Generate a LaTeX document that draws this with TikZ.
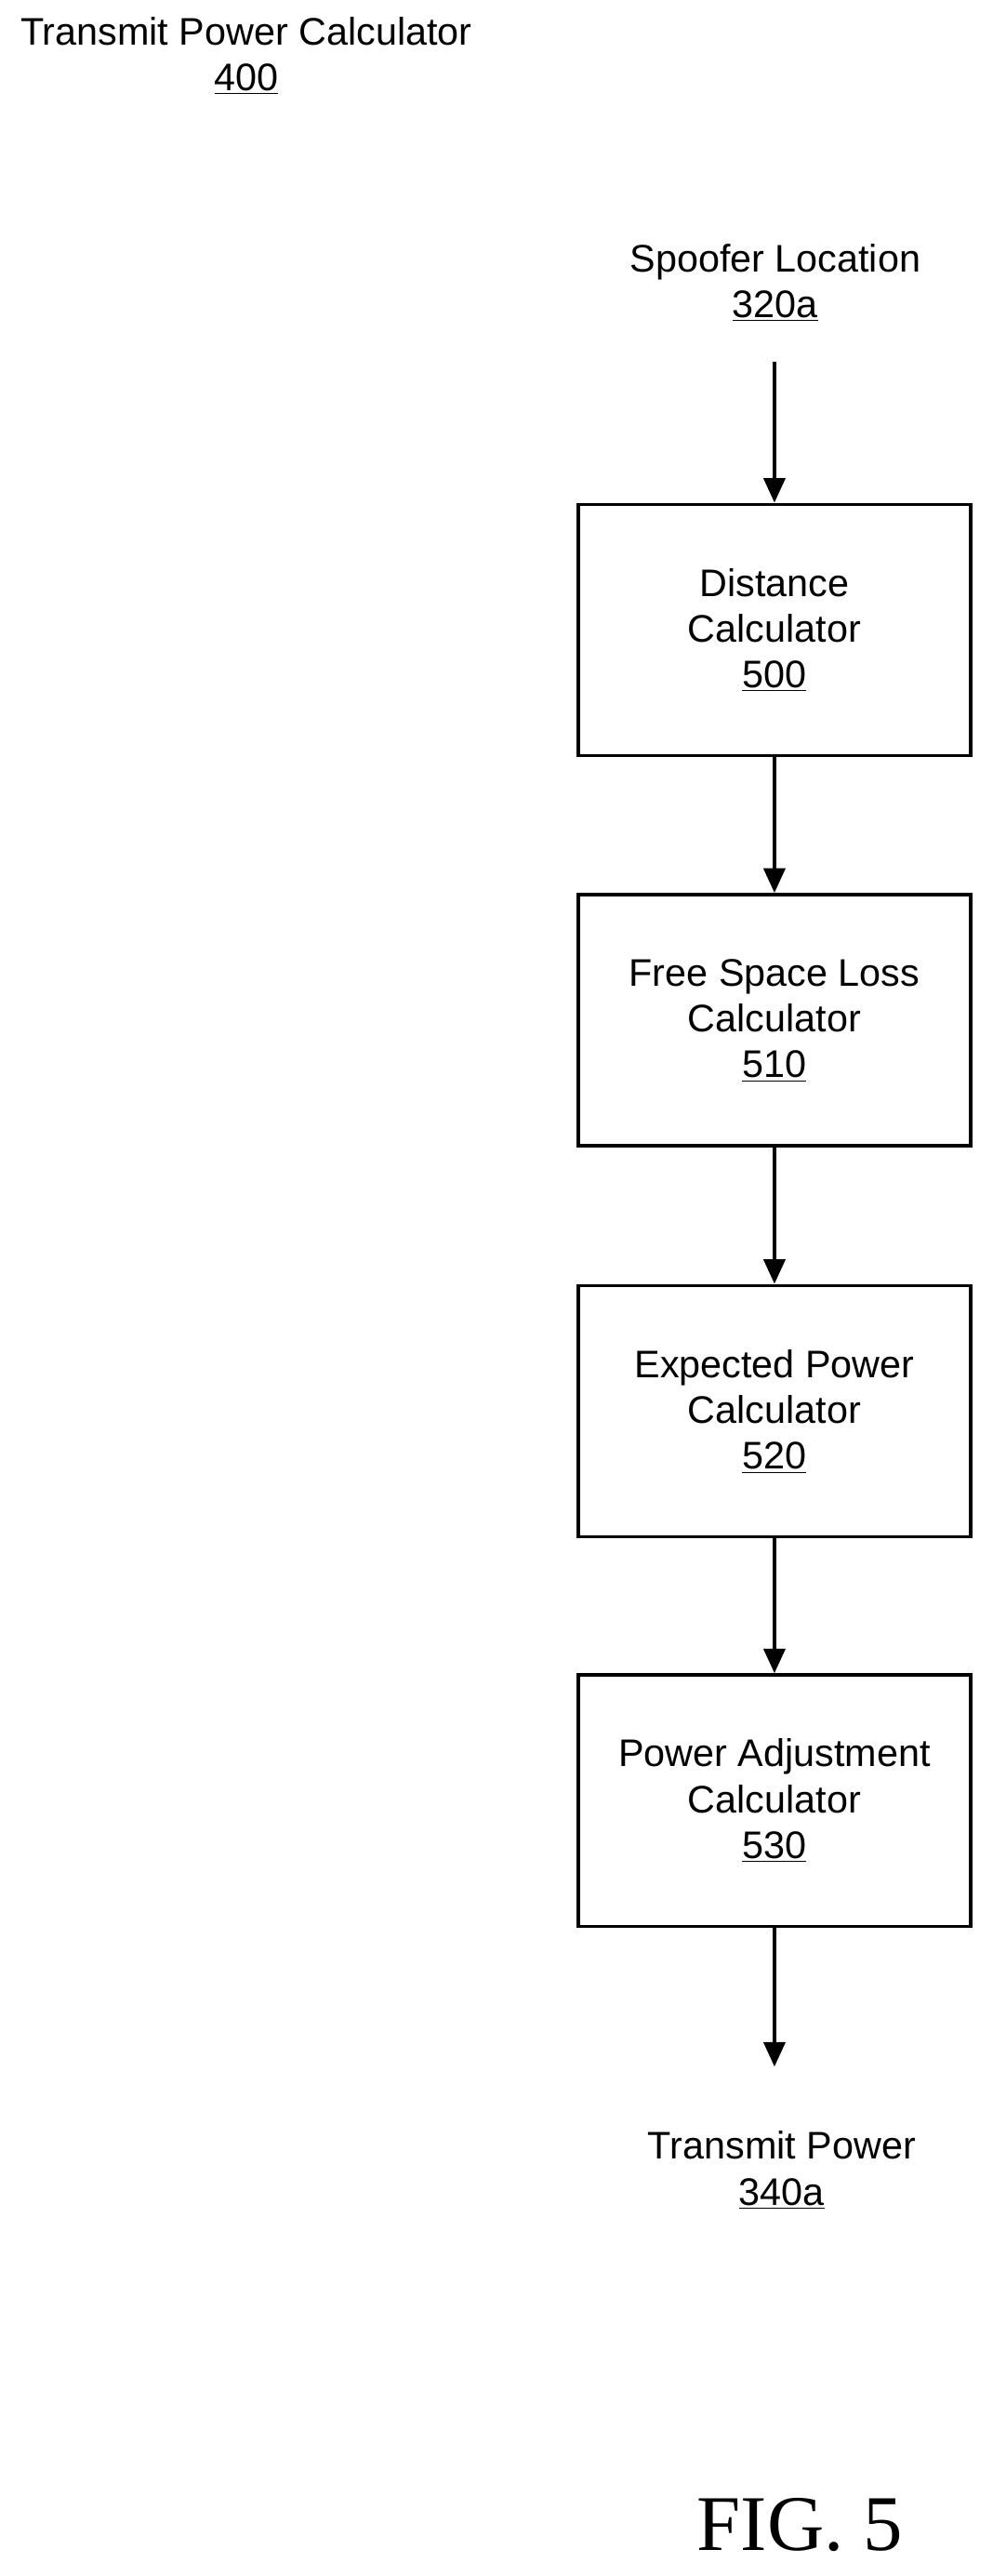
\documentclass[tikz,border=0pt]{standalone}
\usepackage{fontspec}
\setmainfont{Liberation Sans}
\newfontfamily\figfont{Liberation Serif}
\usetikzlibrary{arrows.meta}
\begin{document}
\begin{tikzpicture}[x=1pt,y=-1pt,
  box/.style={draw,line width=2pt,minimum width=239pt,minimum height=153pt,align=center,inner sep=0pt,font=\fontsize{23.4}{28}\selectfont},
  lab/.style={align=center,font=\fontsize{23.4}{28}\selectfont},
  arr/.style={line width=2.4pt,-{Triangle[length=15pt,width=13pt]}}]
\useasboundingbox (0,0) rectangle (604,1568);
\node[lab] (title) at (150,34) {Transmit Power Calculator\\\underline{400}};
\node[lab] (in) at (472,172) {Spoofer Location\\\underline{320a}};
\node[box] (b1) at (471.5,383.5) {Distance\\Calculator\\\underline{500}};
\node[box] (b2) at (471.5,621) {Free Space Loss\\Calculator\\\underline{510}};
\node[box] (b3) at (471.5,859) {Expected Power\\Calculator\\\underline{520}};
\node[box] (b4) at (471.5,1096) {Power Adjustment\\Calculator\\\underline{530}};
\node[lab] (out) at (476,1321) {Transmit Power\\\underline{340a}};
\coordinate (s) at (471.5,220);
\coordinate (e) at (471.5,1258);
\draw[arr] (s) -- (b1.north);
\draw[arr] (b1) -- (b2);
\draw[arr] (b2) -- (b3);
\draw[arr] (b3) -- (b4);
\draw[arr] (b4.south) -- (e);
\node[font=\figfont\fontsize{48}{54}\selectfont] (fig) at (487,1537) {FIG. 5};
\end{tikzpicture}
\end{document}
